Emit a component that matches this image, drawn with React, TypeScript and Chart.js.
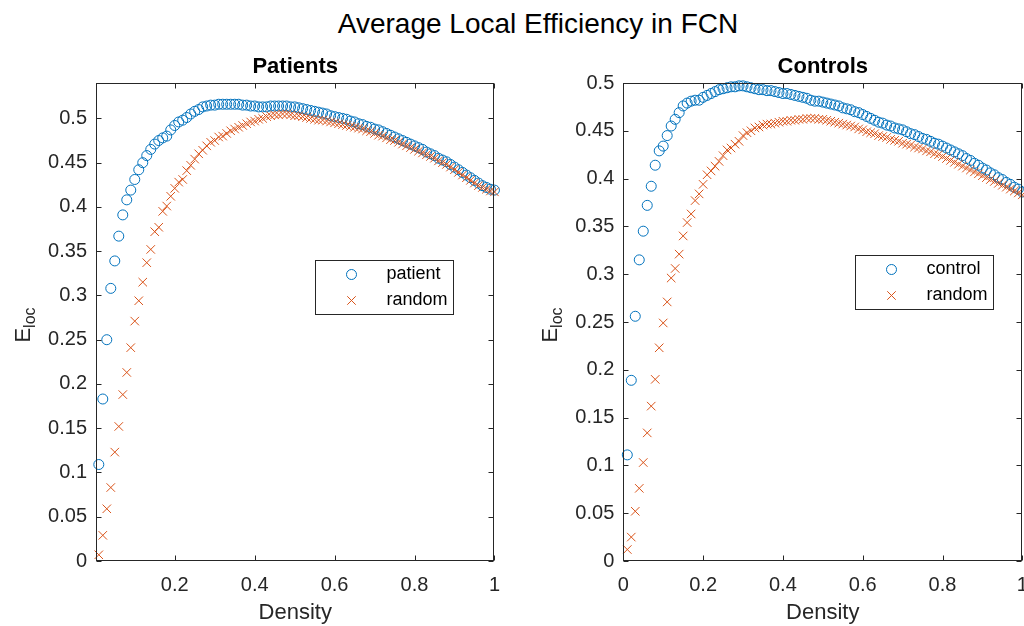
import React, { useEffect, useRef } from "react";
import { Chart, registerables } from "chart.js";

Chart.register(...registerables);

const FONT = '"Liberation Sans", Arial, Helvetica, sans-serif';

const SUPTITLE = "Average Local Efficiency in FCN";
const LEFT_TITLE = "Patients";
const RIGHT_TITLE = "Controls";
const X_LABEL = "Density";
const Y_LABEL_MAIN = "E";
const Y_LABEL_SUB = "loc";

const DENSITY = [
  0.01, 0.02, 0.03, 0.04, 0.05, 0.06, 0.07, 0.08, 0.09, 0.1,
  0.11, 0.12, 0.13, 0.14, 0.15, 0.16, 0.17, 0.18, 0.19, 0.2,
  0.21, 0.22, 0.23, 0.24, 0.25, 0.26, 0.27, 0.28, 0.29, 0.3,
  0.31, 0.32, 0.33, 0.34, 0.35, 0.36, 0.37, 0.38, 0.39, 0.4,
  0.41, 0.42, 0.43, 0.44, 0.45, 0.46, 0.47, 0.48, 0.49, 0.5,
  0.51, 0.52, 0.53, 0.54, 0.55, 0.56, 0.57, 0.58, 0.59, 0.6,
  0.61, 0.62, 0.63, 0.64, 0.65, 0.66, 0.67, 0.68, 0.69, 0.7,
  0.71, 0.72, 0.73, 0.74, 0.75, 0.76, 0.77, 0.78, 0.79, 0.8,
  0.81, 0.82, 0.83, 0.84, 0.85, 0.86, 0.87, 0.88, 0.89, 0.9,
  0.91, 0.92, 0.93, 0.94, 0.95, 0.96, 0.97, 0.98, 0.99, 1.0,
];

const PATIENT = [
  0.109, 0.183, 0.25, 0.308, 0.339, 0.367, 0.391, 0.408, 0.419, 0.431,
  0.442, 0.45, 0.458, 0.465, 0.471, 0.475, 0.478, 0.48, 0.487, 0.492,
  0.496, 0.498, 0.501, 0.505, 0.508, 0.51, 0.513, 0.514, 0.515, 0.515,
  0.516, 0.516, 0.516, 0.516, 0.516, 0.516, 0.515, 0.515, 0.514, 0.514,
  0.513, 0.513, 0.513, 0.514, 0.514, 0.514, 0.514, 0.514, 0.513, 0.513,
  0.512, 0.511, 0.51, 0.509, 0.508, 0.507, 0.506, 0.505, 0.503, 0.502,
  0.501, 0.5, 0.499, 0.497, 0.496, 0.494, 0.493, 0.491, 0.49, 0.488,
  0.487, 0.485, 0.483, 0.481, 0.479, 0.477, 0.475, 0.473, 0.471, 0.469,
  0.467, 0.465, 0.462, 0.46, 0.458, 0.455, 0.453, 0.451, 0.448, 0.445,
  0.442, 0.439, 0.436, 0.433, 0.43, 0.427, 0.424, 0.422, 0.42, 0.419,
];

const PATIENT_RANDOM = [
  0.007, 0.029, 0.059, 0.083, 0.123, 0.152, 0.188, 0.213, 0.241, 0.271,
  0.294, 0.315, 0.337, 0.352, 0.372, 0.377, 0.395, 0.401, 0.412, 0.421,
  0.428, 0.431, 0.441, 0.447, 0.454, 0.46, 0.464, 0.469, 0.473, 0.475,
  0.479, 0.48, 0.483, 0.486, 0.488, 0.49, 0.492, 0.494, 0.496, 0.497,
  0.499, 0.5, 0.502, 0.503, 0.504, 0.504, 0.505, 0.505, 0.504, 0.503,
  0.503, 0.502, 0.501, 0.5, 0.499, 0.498, 0.498, 0.497, 0.496, 0.495,
  0.494, 0.493, 0.492, 0.491, 0.49, 0.489, 0.488, 0.486, 0.485, 0.483,
  0.481, 0.48, 0.478, 0.476, 0.475, 0.473, 0.471, 0.469, 0.467, 0.465,
  0.463, 0.461, 0.459, 0.457, 0.455, 0.452, 0.45, 0.448, 0.445, 0.442,
  0.439, 0.436, 0.433, 0.43, 0.427, 0.424, 0.422, 0.42, 0.418, 0.417,
];

const CONTROL = [
  0.111, 0.189, 0.256, 0.315, 0.345, 0.372, 0.392, 0.414, 0.429, 0.434,
  0.445, 0.455, 0.462, 0.469, 0.476, 0.479, 0.481, 0.482, 0.482, 0.485,
  0.487, 0.489, 0.491, 0.493, 0.494, 0.495, 0.496, 0.496, 0.497, 0.497,
  0.496, 0.495, 0.494, 0.493, 0.493, 0.492, 0.492, 0.491, 0.49, 0.489,
  0.489, 0.488, 0.487, 0.486, 0.485, 0.484, 0.482, 0.481, 0.481, 0.48,
  0.479, 0.478, 0.477, 0.476, 0.474, 0.473, 0.472, 0.47, 0.469, 0.467,
  0.465, 0.463, 0.461, 0.459, 0.458, 0.456, 0.455, 0.453, 0.452, 0.451,
  0.449, 0.447, 0.446, 0.444, 0.442, 0.441, 0.439, 0.437, 0.436, 0.434,
  0.432, 0.43, 0.428, 0.426, 0.424, 0.421, 0.419, 0.416, 0.414, 0.411,
  0.409, 0.406, 0.404, 0.401, 0.399, 0.396, 0.394, 0.391, 0.389, 0.386,
];

const CONTROL_RANDOM = [
  0.012, 0.025, 0.052, 0.076, 0.103, 0.134, 0.162, 0.19, 0.223, 0.249,
  0.271, 0.296, 0.306, 0.321, 0.34, 0.354, 0.363, 0.377, 0.384, 0.394,
  0.404, 0.408, 0.413, 0.418, 0.424, 0.43, 0.432, 0.436, 0.439, 0.445,
  0.448, 0.45, 0.453, 0.454, 0.456, 0.457, 0.457, 0.458, 0.459, 0.46,
  0.46, 0.461, 0.461, 0.462, 0.462, 0.463, 0.463, 0.463, 0.462, 0.462,
  0.461, 0.46, 0.459, 0.458, 0.457, 0.456, 0.455, 0.454, 0.452, 0.451,
  0.449, 0.448, 0.447, 0.445, 0.444, 0.443, 0.441, 0.44, 0.439, 0.437,
  0.436, 0.435, 0.433, 0.432, 0.431, 0.429, 0.428, 0.426, 0.425, 0.423,
  0.421, 0.419, 0.417, 0.415, 0.413, 0.411, 0.409, 0.407, 0.405, 0.403,
  0.401, 0.399, 0.397, 0.395, 0.393, 0.391, 0.389, 0.387, 0.385, 0.383,
];

const X_TICKS_LEFT = [0.2, 0.4, 0.6, 0.8, 1];
const X_TICK_LABELS_LEFT = ["0.2", "0.4", "0.6", "0.8", "1"];
const X_TICKS_RIGHT = [0, 0.2, 0.4, 0.6, 0.8, 1];
const X_TICK_LABELS_RIGHT = ["0", "0.2", "0.4", "0.6", "0.8", "1"];
const Y_TICKS = [0, 0.05, 0.1, 0.15, 0.2, 0.25, 0.3, 0.35, 0.4, 0.45, 0.5];
const Y_TICK_LABELS = ["0", "0.05", "0.1", "0.15", "0.2", "0.25", "0.3", "0.35", "0.4", "0.45", "0.5"];

const BLUE = "#0072BD";
const ORANGE = "#D95319";
const AXIS = "#262626";

const framePlugin = {
  id: "matlabFrame",
  afterDraw(chart: any, _args: any, opts: any) {
    const { ctx, chartArea: a, scales } = chart;
    ctx.save();
    ctx.strokeStyle = AXIS;
    ctx.lineWidth = 1;
    const L = Math.round(a.left) + 0.5;
    const R = Math.round(a.right) - 0.5;
    const T = Math.round(a.top) + 0.5;
    const B = Math.round(a.bottom) - 0.5;
    ctx.strokeRect(L, T, R - L, B - T);
    const tl = 5;
    ctx.beginPath();
    for (const t of scales.x.ticks) {
      const px = Math.round(scales.x.getPixelForValue(t.value)) + 0.5;
      ctx.moveTo(px, B);
      ctx.lineTo(px, B - tl);
      ctx.moveTo(px, T);
      ctx.lineTo(px, T + tl);
    }
    for (const t of scales.y.ticks) {
      const py = Math.round(scales.y.getPixelForValue(t.value)) + 0.5;
      ctx.moveTo(L, py);
      ctx.lineTo(L + tl, py);
      ctx.moveTo(R, py);
      ctx.lineTo(R - tl, py);
    }
    ctx.stroke();

    // y axis label with subscript
    const cy = (a.top + a.bottom) / 2 + (opts.yLabelShift || 0);
    const bx = a.left - opts.yLabelOffset;
    ctx.font = `${opts.yLabelSize}px ${FONT}`;
    const wE = ctx.measureText(Y_LABEL_MAIN).width;
    ctx.font = `${opts.ySubSize}px ${FONT}`;
    const wS = ctx.measureText(Y_LABEL_SUB).width;
    const total = wE + wS;
    ctx.translate(bx, cy);
    ctx.rotate(-Math.PI / 2);
    ctx.fillStyle = AXIS;
    ctx.textBaseline = "alphabetic";
    ctx.textAlign = "left";
    ctx.font = `${opts.yLabelSize}px ${FONT}`;
    ctx.fillText(Y_LABEL_MAIN, -total / 2, 0);
    ctx.font = `${opts.ySubSize}px ${FONT}`;
    ctx.fillText(Y_LABEL_SUB, -total / 2 + wE, opts.ySubDrop);
    ctx.setTransform(1, 0, 0, 1, 0, 0);

    // legend
    const lg = opts.legend;
    const lx = Math.round(a.left + lg.dx) + 0.5;
    const ly = Math.round(a.top + lg.dy) + 0.5;
    ctx.fillStyle = "#ffffff";
    ctx.fillRect(lx, ly, lg.w, lg.h);
    ctx.strokeStyle = AXIS;
    ctx.strokeRect(lx, ly, lg.w, lg.h);
    const sets = chart.data.datasets;
    sets.forEach((ds: any, i: number) => {
      const mx = lx + lg.markerX;
      const my = ly + lg.rowY[i];
      ctx.strokeStyle = ds.pointBorderColor;
      ctx.lineWidth = 1;
      ctx.beginPath();
      if (ds.pointStyle === "circle") {
        ctx.arc(mx, my, ds.pointRadius, 0, Math.PI * 2);
      } else {
        const o = Math.cos(Math.PI / 4) * ds.pointRadius;
        ctx.moveTo(mx - o, my - o);
        ctx.lineTo(mx + o, my + o);
        ctx.moveTo(mx - o, my + o);
        ctx.lineTo(mx + o, my - o);
      }
      ctx.stroke();
      ctx.fillStyle = "#000000";
      ctx.font = `${lg.fontSize}px ${FONT}`;
      ctx.textBaseline = "middle";
      ctx.textAlign = "left";
      ctx.fillText(ds.label, lx + lg.textX, my);
    });
    ctx.restore();
  },
};

function makeConfig(p: {
  title: string;
  main: number[];
  rand: number[];
  mainLabel: string;
  xMin: number;
  yMax: number;
  xTicks: number[];
  xTickLabels: string[];
  padRight: number;
  yWidth: number;
  legend: any;
}) {
  const labelFor = (ticks: number[], labels: string[]) => (v: any) => {
    const i = ticks.findIndex((t) => Math.abs(t - Number(v)) < 1e-9);
    return i >= 0 ? labels[i] : "";
  };
  return {
    type: "scatter",
    data: {
      datasets: [
        {
          label: p.mainLabel,
          data: DENSITY.map((d, i) => ({ x: d, y: p.main[i] })),
          pointStyle: "circle",
          pointRadius: 5,
          pointBorderColor: BLUE,
          pointBackgroundColor: "rgba(0,0,0,0)",
          pointBorderWidth: 1,
          showLine: false,
          clip: false,
          order: 2,
        },
        {
          label: "random",
          data: DENSITY.map((d, i) => ({ x: d, y: p.rand[i] })),
          pointStyle: "crossRot",
          pointRadius: 6,
          pointBorderColor: ORANGE,
          pointBackgroundColor: ORANGE,
          pointBorderWidth: 1,
          showLine: false,
          clip: false,
          order: 1,
        },
      ],
    },
    options: {
      responsive: false,
      animation: false,
      events: [],
      layout: { padding: { left: 0, right: p.padRight, top: 0, bottom: 0 } },
      plugins: {
        legend: { display: false },
        tooltip: { enabled: false },
        title: {
          display: true,
          text: p.title,
          fullSize: false,
          color: "#000000",
          font: { family: FONT, size: 22, weight: "bold", lineHeight: 1.2 },
          padding: { top: 54, bottom: 2.6 },
        },
        matlabFrame: {
          yLabelOffset: 66,
          yLabelSize: 22,
          ySubSize: 16,
          ySubDrop: 5,
          yLabelShift: 3,
          legend: p.legend,
        },
      },
      scales: {
        x: {
          type: "linear",
          min: p.xMin,
          max: 1,
          afterBuildTicks: (s: any) => {
            s.ticks = p.xTicks.map((v) => ({ value: v }));
          },
          afterFit: (s: any) => {
            s.height = 65;
          },
          grid: { display: false, drawTicks: false },
          border: { display: false },
          ticks: {
            padding: 12,
            color: AXIS,
            font: { family: FONT, size: 20, lineHeight: 1.2 },
            maxRotation: 0,
            autoSkip: false,
            callback: labelFor(p.xTicks, p.xTickLabels),
          },
          title: {
            display: true,
            text: X_LABEL,
            color: AXIS,
            font: { family: FONT, size: 22, lineHeight: 1.2 },
            padding: { top: 0, bottom: 0 },
          },
        },
        y: {
          type: "linear",
          min: 0,
          max: p.yMax,
          afterBuildTicks: (s: any) => {
            s.ticks = Y_TICKS.map((v) => ({ value: v }));
          },
          afterFit: (s: any) => {
            s.width = p.yWidth;
          },
          grid: { display: false, drawTicks: false },
          border: { display: false },
          ticks: {
            padding: 9,
            color: AXIS,
            font: { family: FONT, size: 20, lineHeight: 1.2 },
            autoSkip: false,
            callback: labelFor(Y_TICKS, Y_TICK_LABELS),
          },
        },
      },
    },
    plugins: [framePlugin],
  } as any;
}

export default function App() {
  const leftRef = useRef<HTMLCanvasElement>(null);
  const rightRef = useRef<HTMLCanvasElement>(null);

  useEffect(() => {
    const left = new Chart(
      leftRef.current as HTMLCanvasElement,
      makeConfig({
        title: LEFT_TITLE,
        main: PATIENT,
        rand: PATIENT_RANDOM,
        mainLabel: "patient",
        xMin: 0.003,
        yMax: 0.54,
        xTicks: X_TICKS_LEFT,
        xTickLabels: X_TICK_LABELS_LEFT,
        padRight: 16,
        yWidth: 96,
        legend: { dx: 219, dy: 177, w: 138, h: 54, markerX: 36, textX: 71, rowY: [14, 40], fontSize: 18 },
      })
    );
    const right = new Chart(
      rightRef.current as HTMLCanvasElement,
      makeConfig({
        title: RIGHT_TITLE,
        main: CONTROL,
        rand: CONTROL_RANDOM,
        mainLabel: "control",
        xMin: 0,
        yMax: 0.5,
        xTicks: X_TICKS_RIGHT,
        xTickLabels: X_TICK_LABELS_RIGHT,
        padRight: 29.7,
        yWidth: 111.3,
        legend: { dx: 232, dy: 172, w: 138, h: 54, markerX: 36, textX: 71, rowY: [14, 40], fontSize: 18 },
      })
    );
    return () => {
      left.destroy();
      right.destroy();
    };
  }, []);

  return (
    <div
      style={{
        position: "absolute",
        left: 0,
        top: 0,
        width: 1024,
        height: 626,
        overflow: "hidden",
        background: "#ffffff",
        fontFamily: FONT,
      }}
    >
      <div
        style={{
          position: "absolute",
          left: 0,
          top: 8,
          width: 1076,
          textAlign: "center",
          fontSize: 28,
          lineHeight: "32px",
          color: "#000000",
        }}
      >
        {SUPTITLE}
      </div>
      <canvas
        ref={leftRef}
        width={512}
        height={626}
        style={{ position: "absolute", left: 0, top: 0, width: 512, height: 626 }}
      />
      <canvas
        ref={rightRef}
        width={540}
        height={626}
        style={{ position: "absolute", left: 512, top: 0, width: 540, height: 626 }}
      />
    </div>
  );
}
